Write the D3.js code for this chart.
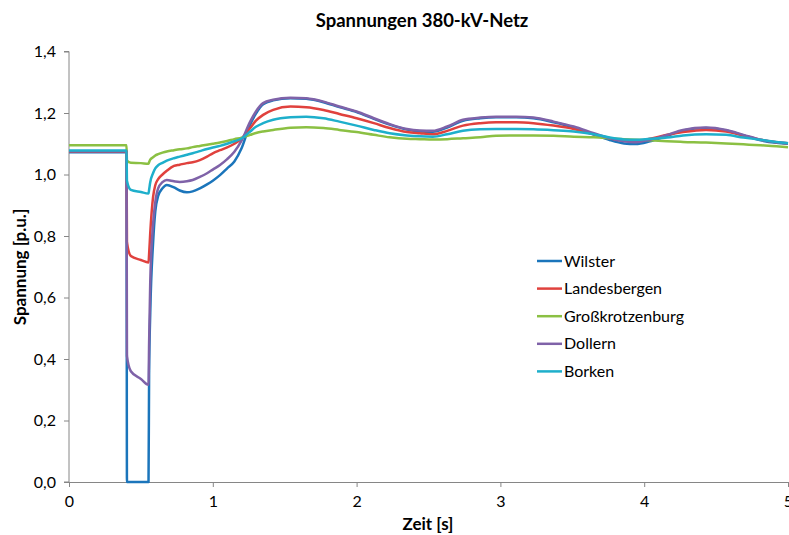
<!DOCTYPE html>
<html>
<head>
<meta charset="utf-8">
<script src="https://cdn.jsdelivr.net/npm/d3@7"></script>
<style>
  html, body { margin: 0; padding: 0; background: #fff; }
  svg text { font-family: Lato, "Open Sans", sans-serif; fill: #000; }
</style>
</head>
<body>
<svg id="chart" width="789" height="535"></svg>
<script>
const titleText = "Spannungen 380-kV-Netz";
const xTitle = "Zeit [s]";
const yTitle = "Spannung [p.u.]";
const xTicks = [0, 1, 2, 3, 4, 5];
const yTicks = [0, 0.2, 0.4, 0.6, 0.8, 1.0, 1.2, 1.4];

const time = [0, 0.4, 0.403, 0.43, 0.5, 0.553, 0.557, 0.565, 0.585, 0.6,
  0.62, 0.65, 0.68, 0.73, 0.77, 0.82, 0.86, 0.91, 0.96, 1.0,
  1.05, 1.1, 1.15, 1.2, 1.26, 1.3, 1.35, 1.42, 1.54, 1.65,
  1.77, 1.88, 2.0, 2.12, 2.23, 2.35, 2.44, 2.53, 2.63, 2.74,
  2.86, 2.97, 3.11, 3.23, 3.37, 3.51, 3.65, 3.76, 3.86, 3.94,
  4.04, 4.16, 4.27, 4.43, 4.57, 4.69, 4.81, 4.92, 5.0];

const wilster = [1.072, 1.072, 0, 0, 0, 0, 0.35, 0.55, 0.78, 0.88,
  0.93, 0.955, 0.966, 0.958, 0.948, 0.942, 0.945, 0.955, 0.968, 0.98,
  0.998, 1.02, 1.042, 1.085, 1.163, 1.198, 1.228, 1.241, 1.248, 1.246,
  1.235, 1.219, 1.203, 1.181, 1.162, 1.146, 1.14, 1.139, 1.153, 1.175,
  1.183, 1.186, 1.186, 1.183, 1.17, 1.153, 1.13, 1.112, 1.101, 1.099,
  1.108, 1.126, 1.143, 1.151, 1.143, 1.127, 1.111, 1.103, 1.1];

const landesbergen = [1.075, 1.075, 0.78, 0.735, 0.722, 0.714, 0.74, 0.81, 0.928, 0.965,
  0.985, 1.0, 1.012, 1.028, 1.032, 1.037, 1.04, 1.047, 1.058, 1.069,
  1.079, 1.088, 1.1, 1.117, 1.151, 1.175, 1.194, 1.21, 1.221, 1.219,
  1.21, 1.197, 1.183, 1.167, 1.151, 1.138, 1.134, 1.131, 1.142, 1.159,
  1.167, 1.17, 1.17, 1.167, 1.159, 1.148, 1.131, 1.118, 1.11, 1.109,
  1.116, 1.129, 1.138, 1.145, 1.14, 1.127, 1.113, 1.105, 1.102];

const grosskrotzenburg = [1.095, 1.095, 1.045, 1.038, 1.037, 1.035, 1.04, 1.048, 1.056, 1.062,
  1.066, 1.071, 1.075, 1.079, 1.082, 1.085, 1.089, 1.093, 1.097, 1.1,
  1.104, 1.109, 1.115, 1.12, 1.129, 1.135, 1.14, 1.145, 1.152, 1.154,
  1.151, 1.145, 1.138, 1.129, 1.121, 1.116, 1.115, 1.114, 1.115, 1.118,
  1.121, 1.126, 1.127, 1.127, 1.126, 1.123, 1.121, 1.118, 1.115, 1.113,
  1.111, 1.108, 1.106, 1.104, 1.101, 1.098, 1.095, 1.092, 1.089];

const dollern = [1.076, 1.076, 0.41, 0.36, 0.335, 0.316, 0.45, 0.65, 0.84, 0.91,
  0.955, 0.975, 0.982, 0.978, 0.976, 0.978, 0.982, 0.992, 1.004, 1.016,
  1.031, 1.05, 1.074, 1.11, 1.172, 1.205, 1.232, 1.243, 1.25, 1.248,
  1.237, 1.221, 1.205, 1.183, 1.164, 1.148, 1.143, 1.142, 1.156, 1.178,
  1.185, 1.188, 1.188, 1.185, 1.172, 1.156, 1.134, 1.118, 1.108, 1.105,
  1.113, 1.129, 1.145, 1.153, 1.145, 1.129, 1.113, 1.105, 1.102];

const borken = [1.078, 1.078, 0.98, 0.95, 0.943, 0.938, 0.95, 0.975, 1.005, 1.02,
  1.03, 1.038, 1.045, 1.053, 1.058, 1.064, 1.069, 1.076, 1.083, 1.088,
  1.093, 1.1, 1.108, 1.117, 1.14, 1.155, 1.167, 1.178, 1.186, 1.188,
  1.183, 1.172, 1.159, 1.145, 1.134, 1.127, 1.124, 1.123, 1.131, 1.142,
  1.147, 1.148, 1.148, 1.147, 1.144, 1.14, 1.131, 1.12, 1.114, 1.113,
  1.116, 1.12, 1.127, 1.131, 1.129, 1.12, 1.113, 1.106, 1.102];

const seriesNames = ["Wilster", "Landesbergen", "Großkrotzenburg", "Dollern", "Borken"];
const seriesColors = ["#1B75BB", "#E0413D", "#8BC043", "#7F62A8", "#1EAFCB"];
const seriesValues = [wilster, landesbergen, grosskrotzenburg, dollern, borken];

const svg = d3.select("#chart");
const margin = { left: 69, right: 1, top: 51.5, bottom: 53 };
const W = 789, H = 535;

const x = d3.scaleLinear().domain([0, 5]).range([margin.left, W - margin.right]);
const y = d3.scaleLinear().domain([0, 1.4]).range([H - margin.bottom, margin.top]);

const axisColor = "#868686";
const fmt = d => d3.format(".1f")(d).replace(".", ",");

// X axis
const gx = svg.append("g").attr("transform", `translate(0,${y(0)})`)
  .call(d3.axisBottom(x).tickValues(xTicks).tickSize(5).tickPadding(9).tickFormat(d3.format("d")));
gx.select(".domain").attr("stroke", axisColor);
gx.selectAll(".tick line").attr("stroke", axisColor);
gx.selectAll(".tick text").attr("font-size", 16).attr("font-family", "Lato, sans-serif").attr("fill", "#000");

// Y axis
const gy = svg.append("g").attr("transform", `translate(${x(0)},0)`)
  .call(d3.axisLeft(y).tickValues(yTicks).tickSize(5).tickPadding(8).tickFormat(fmt));
gy.select(".domain").attr("stroke", axisColor).attr("d", `M-5,${y(1.4)}H0V${y(0)}H-5`);
gy.selectAll(".tick line").attr("stroke", axisColor);
gy.selectAll(".tick text").attr("font-size", 16).attr("font-family", "Lato, sans-serif").attr("fill", "#000");

// Lines
const line = d3.line()
  .x((d, i) => x(time[i]))
  .y(d => y(d))
  .curve(d3.curveMonotoneX);

seriesValues.forEach((vals, k) => {
  svg.append("path")
    .datum(vals)
    .attr("fill", "none")
    .attr("stroke", seriesColors[k])
    .attr("stroke-width", 2.5)
    .attr("stroke-linejoin", "round")
    .attr("d", line);
});

// Title
svg.append("text").attr("x", 422).attr("y", 27).attr("text-anchor", "middle")
  .attr("font-size", 18.5).attr("font-weight", "bold").text(titleText);

// Axis titles
svg.append("text").attr("x", 428).attr("y", 530).attr("text-anchor", "middle")
  .attr("font-size", 17).attr("font-weight", "bold").text(xTitle);
svg.append("text").attr("transform", `translate(26,${267}) rotate(-90)`).attr("text-anchor", "middle")
  .attr("font-size", 17).attr("font-weight", "bold").text(yTitle);

// Legend
const legend = svg.append("g");
seriesNames.forEach((name, k) => {
  const ly = 261 + k * 27.6;
  legend.append("line").attr("x1", 537).attr("x2", 562).attr("y1", ly).attr("y2", ly)
    .attr("stroke", seriesColors[k]).attr("stroke-width", 2.5);
  legend.append("text").attr("x", 564).attr("y", ly + 5.5).attr("font-size", 16).text(name);
});
</script>
</body>
</html>
